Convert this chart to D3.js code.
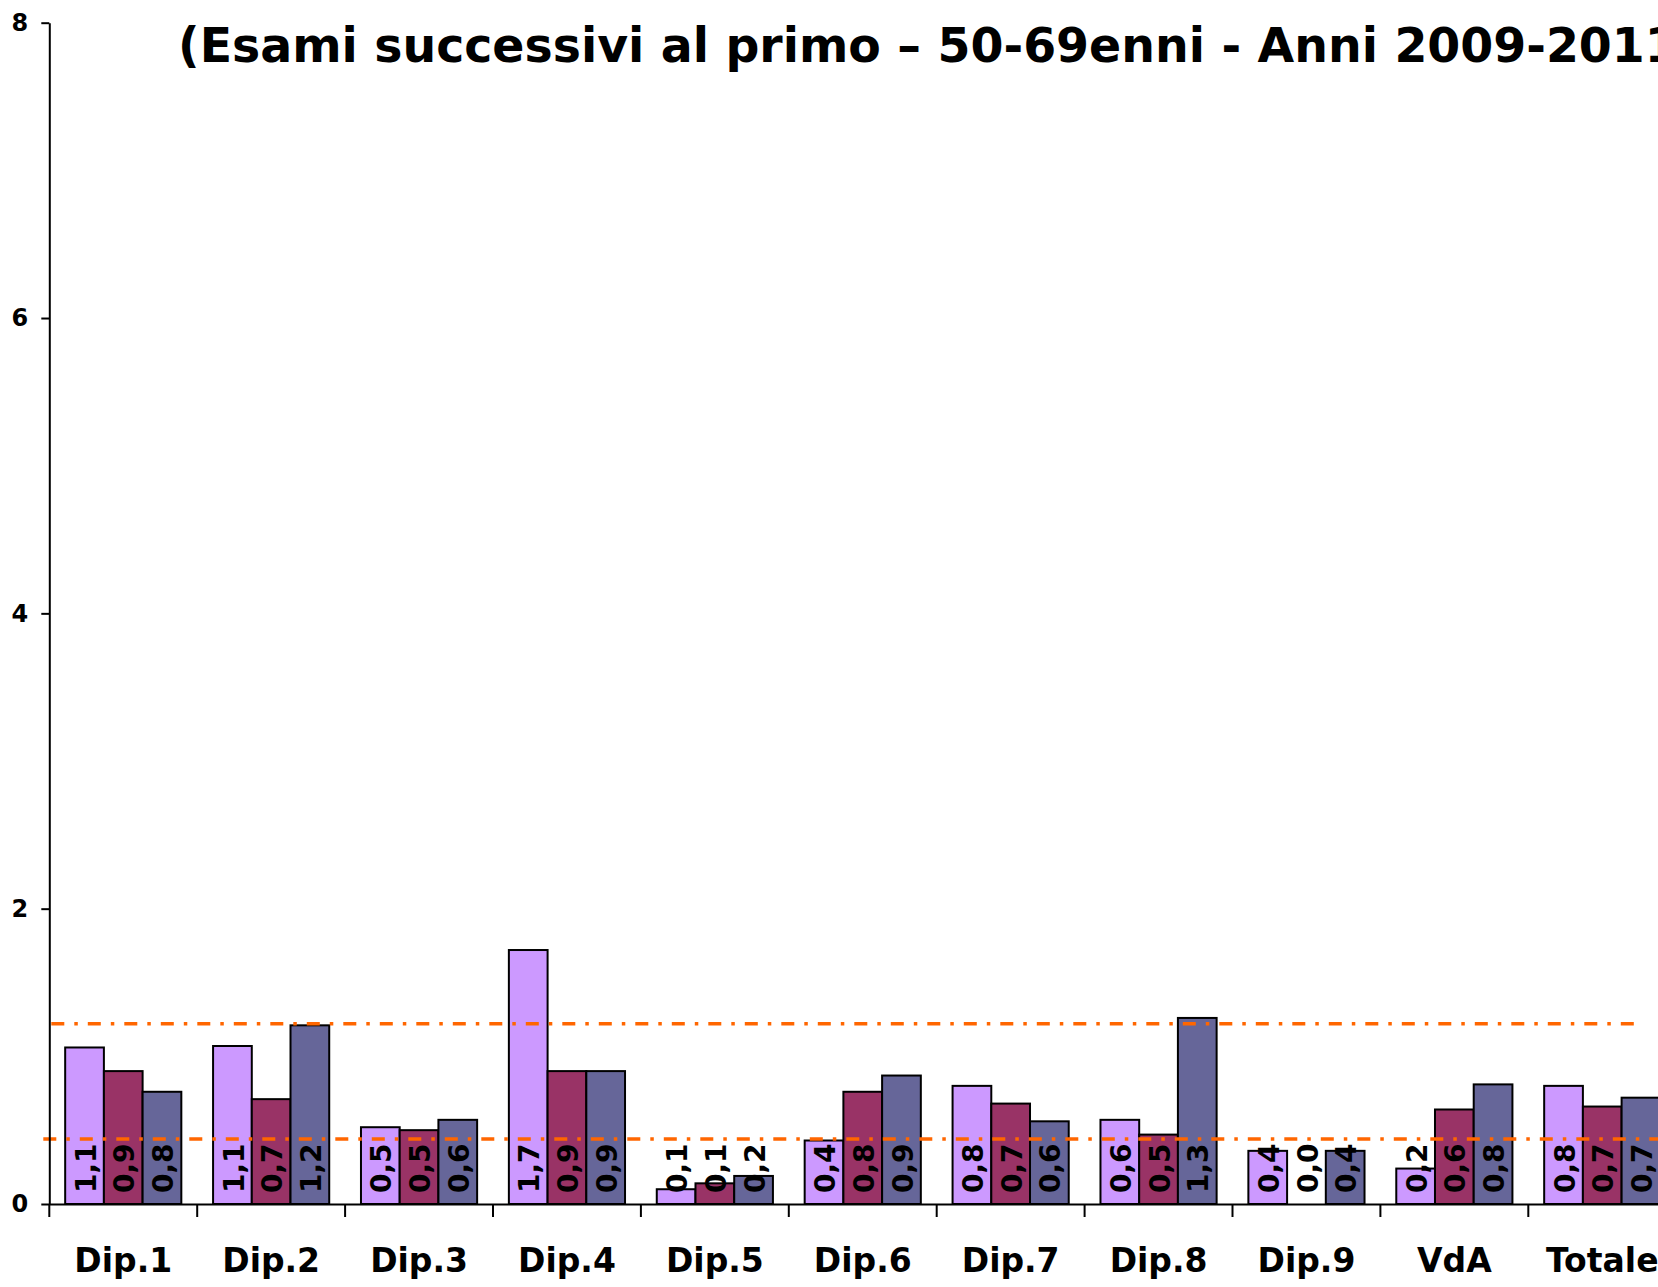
<!DOCTYPE html>
<html>
<head>
<meta charset="utf-8">
<script src="https://cdn.jsdelivr.net/npm/d3@7"></script>
<style>
  html, body { margin: 0; padding: 0; background: #fff; overflow: hidden; }
  svg { display: block; }
</style>
</head>
<body>
<svg id="chart" width="1658" height="1287"></svg>
<script>
// categorie e serie
const categories = ['Dip.1', 'Dip.2', 'Dip.3', 'Dip.4', 'Dip.5', 'Dip.6', 'Dip.7', 'Dip.8', 'Dip.9', 'VdA', 'Totale'];
const seriesNames = ['2009', '2010', '2011'];
const values2009 = [1.06, 1.07, 0.52, 1.72, 0.10, 0.43, 0.80, 0.57, 0.36, 0.24, 0.80];
const values2010 = [0.90, 0.71, 0.50, 0.90, 0.14, 0.76, 0.68, 0.47, 0.00, 0.64, 0.66];
const values2011 = [0.76, 1.21, 0.57, 0.90, 0.19, 0.87, 0.56, 1.26, 0.36, 0.81, 0.72];
const refValues = [1.22, 0.44];
const yTicks = [0, 2, 4, 6, 8];
const titleText = '(Esami successivi al primo \u2013 50-69enni - Anni 2009-2011)';

const plotLeft = 49.3, plotTop = 22.7, plotBottom = 1204, step = 147.9;
const colors = ['#CC99FF', '#993366', '#666699'];
const font = "'Century Gothic', 'DejaVu Sans', sans-serif";

const svg = d3.select('#chart');

const x = d3.scaleBand()
  .domain(categories)
  .range([plotLeft, plotLeft + step * categories.length])
  .padding(0);

const xs = d3.scaleBand()
  .domain(seriesNames)
  .range([0, x.bandwidth()])
  .paddingInner(0)
  .paddingOuter(0.41);

const y = d3.scaleLinear().domain([0, 8]).range([plotBottom, plotTop]);

const color = d3.scaleOrdinal().domain(seriesNames).range(colors);

const rows = [values2009, values2010, values2011];
const bars = [];
categories.forEach((c, i) => {
  seriesNames.forEach((s, j) => bars.push({ cat: c, serie: s, value: rows[j][i] }));
});

const fmt = v => d3.format('.1f')(v).replace('.', ',');

// barre
svg.append('g')
  .selectAll('rect')
  .data(bars.filter(d => d.value > 0))
  .join('rect')
  .attr('x', d => x(d.cat) + xs(d.serie))
  .attr('y', d => y(d.value))
  .attr('width', xs.bandwidth())
  .attr('height', d => y(0) - y(d.value))
  .attr('fill', d => color(d.serie))
  .attr('stroke', '#000')
  .attr('stroke-width', 2);

// etichette verticali nelle barre
svg.append('g')
  .selectAll('text')
  .data(bars)
  .join('text')
  .attr('transform', d => `translate(${x(d.cat) + xs(d.serie) + xs.bandwidth() / 2 + 1},${y(0) - 11}) rotate(-90)`)
  .attr('dy', '0.36em')
  .attr('font-family', font)
  .attr('font-weight', 'bold')
  .attr('font-size', 28)
  .attr('fill', '#000')
  .text(d => fmt(d.value));

// linee di riferimento
const xEnd = x.range()[1];
const refExtent = [
  [plotLeft + 2, x('Totale') + x.bandwidth() * 0.77],
  [plotLeft - 6, xEnd]
];
svg.append('g')
  .selectAll('line')
  .data(refValues)
  .join('line')
  .attr('x1', (d, i) => refExtent[i][0])
  .attr('x2', (d, i) => refExtent[i][1])
  .attr('y1', d => y(d))
  .attr('y2', d => y(d))
  .attr('stroke', '#FF6600')
  .attr('stroke-width', 3.5)
  .attr('stroke-dasharray', '13,10,3.5,10');

// asse y
const gy = svg.append('g')
  .attr('transform', `translate(${plotLeft},0)`)
  .call(d3.axisLeft(y).tickValues(yTicks).tickSize(8).tickSizeOuter(0).tickPadding(13).tickFormat(d3.format('d')));
gy.select('.domain').attr('stroke', '#000').attr('stroke-width', 2);
gy.selectAll('.tick line').attr('stroke', '#000').attr('stroke-width', 2);
gy.selectAll('.tick text')
  .attr('font-family', font)
  .attr('font-weight', 'bold')
  .attr('font-size', 24)
  .attr('fill', '#000');

// asse x
const gx = svg.append('g')
  .attr('transform', `translate(0,${plotBottom})`)
  .call(d3.axisBottom(x).tickSize(0).tickSizeOuter(0).tickPadding(45));
gx.select('.domain').attr('stroke', '#000').attr('stroke-width', 2);
gx.selectAll('.tick text')
  .attr('font-family', font)
  .attr('font-weight', 'bold')
  .attr('font-size', 33)
  .attr('fill', '#000');

// tacche tra le categorie
gx.append('g')
  .selectAll('line')
  .data(categories)
  .join('line')
  .attr('x1', d => x(d))
  .attr('x2', d => x(d))
  .attr('y1', 0)
  .attr('y2', 13)
  .attr('stroke', '#000')
  .attr('stroke-width', 2);

// titolo (tagliato a destra come nell'originale)
const title = svg.append('text')
  .attr('x', 178)
  .attr('y', 62)
  .attr('font-family', "'Comic Sans MS', 'DejaVu Sans', sans-serif")
  .attr('font-weight', 'bold')
  .attr('font-size', 48)
  .attr('fill', '#000')
  .text(titleText);

// adatta la dimensione perché "Anni" cada dove nel grafico originale
const node = title.node();
const idx = titleText.indexOf('Anni');
const w = node.getSubStringLength(0, idx);
title.attr('font-size', 48 * (1258 - 178) / w);
</script>
</body>
</html>
